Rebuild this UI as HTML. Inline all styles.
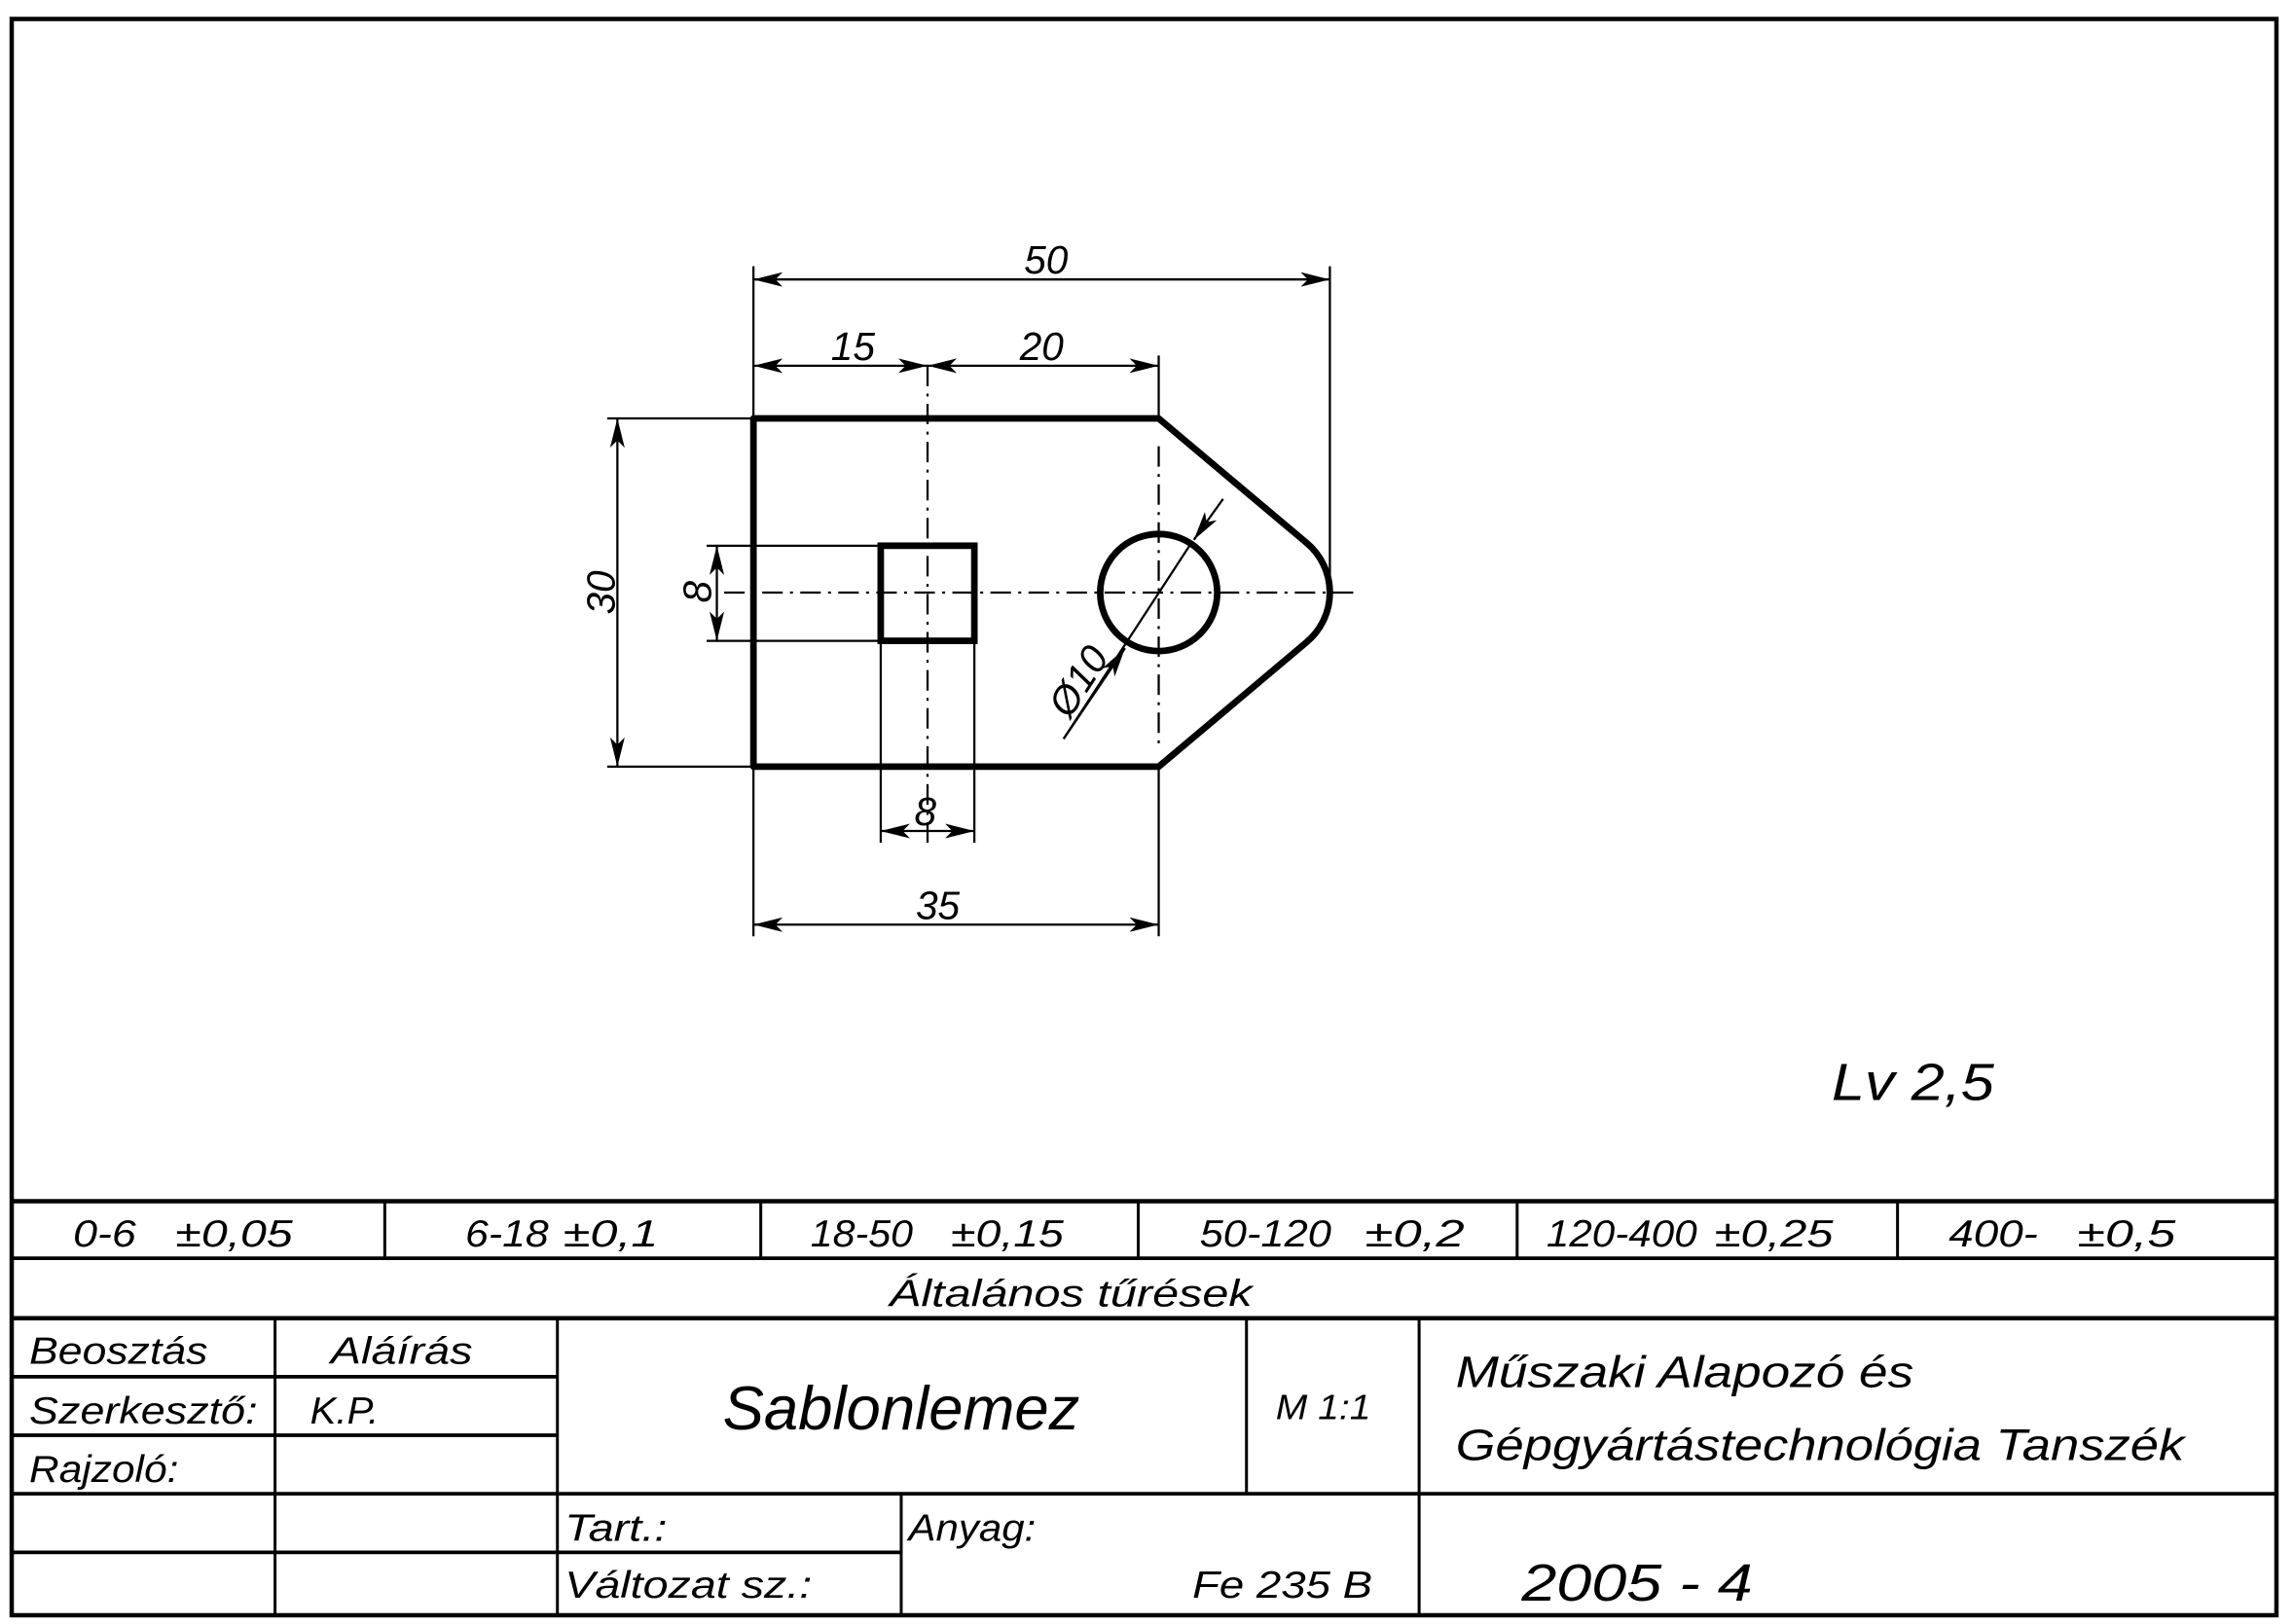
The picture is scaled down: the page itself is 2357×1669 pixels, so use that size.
<!DOCTYPE html>
<html><head><meta charset="utf-8"><style>
html,body{margin:0;padding:0;background:#fff;}
svg{display:block;}
text{font-family:"Liberation Sans",sans-serif;font-style:italic;fill:#000;}
</style></head><body>
<svg width="2357" height="1669" viewBox="0 0 1568 1110" preserveAspectRatio="none" xmlns="http://www.w3.org/2000/svg">
<defs>
<marker id="a" viewBox="0 0 20 10" refX="20" refY="5" markerWidth="20" markerHeight="10" markerUnits="userSpaceOnUse" orient="auto-start-reverse"><path d="M0,0 L20,5 L0,10 L5,5 Z" fill="#000"/></marker>
</defs>
<rect x="0" y="0" width="1568" height="1110" fill="#fff"/>
<g stroke="#000" fill="none">
<path d="M8,13 H1556 V1104 H8 Z" stroke-width="3"/>
<line x1="8" y1="821" x2="1556" y2="821" stroke-width="3"/>
<line x1="8" y1="860" x2="1556" y2="860" stroke-width="2.5"/>
<line x1="8" y1="901" x2="1556" y2="901" stroke-width="3"/>
<g stroke-width="2">
<line x1="263" y1="821" x2="263" y2="860"/><line x1="520" y1="821" x2="520" y2="860"/>
<line x1="778" y1="821" x2="778" y2="860"/><line x1="1037" y1="821" x2="1037" y2="860"/>
<line x1="1297" y1="821" x2="1297" y2="860"/>
<line x1="188" y1="901" x2="188" y2="1104"/><line x1="381" y1="901" x2="381" y2="1104"/>
<line x1="852" y1="901" x2="852" y2="1021"/><line x1="970" y1="901" x2="970" y2="1104"/>
<line x1="616" y1="1021" x2="616" y2="1104"/>
</g>
<g stroke-width="2.5">
<line x1="8" y1="941" x2="381" y2="941"/><line x1="8" y1="981" x2="381" y2="981"/>
<line x1="8" y1="1021" x2="1556" y2="1021"/><line x1="8" y1="1061" x2="381" y2="1061"/>
<line x1="381" y1="1061" x2="616" y2="1061"/>
</g>
</g>
<g font-size="26">
<text x="50" y="852" textLength="43" lengthAdjust="spacingAndGlyphs">0-6</text>
<text x="120" y="852" textLength="80" lengthAdjust="spacingAndGlyphs">±0,05</text>
<text x="318" y="852" textLength="57" lengthAdjust="spacingAndGlyphs">6-18</text>
<text x="385" y="852" textLength="65" lengthAdjust="spacingAndGlyphs">±0,1</text>
<text x="554" y="852" textLength="70" lengthAdjust="spacingAndGlyphs">18-50</text>
<text x="650" y="852" textLength="77" lengthAdjust="spacingAndGlyphs">±0,15</text>
<text x="820" y="852" textLength="90" lengthAdjust="spacingAndGlyphs">50-120</text>
<text x="933" y="852" textLength="68" lengthAdjust="spacingAndGlyphs">±0,2</text>
<text x="1057" y="852" textLength="103" lengthAdjust="spacingAndGlyphs">120-400</text>
<text x="1172" y="852" textLength="81" lengthAdjust="spacingAndGlyphs">±0,25</text>
<text x="1332" y="852" textLength="61" lengthAdjust="spacingAndGlyphs">400-</text>
<text x="1420" y="852" textLength="67" lengthAdjust="spacingAndGlyphs">±0,5</text>
<text x="608" y="893" textLength="248" lengthAdjust="spacingAndGlyphs">Általános tűrések</text>
<text x="20" y="932" textLength="122" lengthAdjust="spacingAndGlyphs">Beosztás</text>
<text x="226" y="932" textLength="97" lengthAdjust="spacingAndGlyphs">Aláírás</text>
<text x="20" y="973" textLength="156" lengthAdjust="spacingAndGlyphs">Szerkesztő:</text>
<text x="212" y="973" textLength="47" lengthAdjust="spacingAndGlyphs">K.P.</text>
<text x="20" y="1013" textLength="102" lengthAdjust="spacingAndGlyphs">Rajzoló:</text>
<text x="872" y="970" font-size="24" textLength="65" lengthAdjust="spacingAndGlyphs">M 1:1</text>
<text x="386" y="1053" textLength="70" lengthAdjust="spacingAndGlyphs">Tart.:</text>
<text x="621" y="1053" textLength="87" lengthAdjust="spacingAndGlyphs">Anyag:</text>
<text x="386" y="1092" textLength="169" lengthAdjust="spacingAndGlyphs">Változat sz.:</text>
<text x="815" y="1092" textLength="123" lengthAdjust="spacingAndGlyphs">Fe 235 B</text>
<text x="995" y="948" font-size="30" textLength="313" lengthAdjust="spacingAndGlyphs">Műszaki Alapozó és</text>
<text x="995" y="998" font-size="30" textLength="498" lengthAdjust="spacingAndGlyphs">Gépgyártástechnológia Tanszék</text>
<text x="1040" y="1094" font-size="36" textLength="158" lengthAdjust="spacingAndGlyphs">2005 - 4</text>
</g>
<text x="494" y="977" font-size="42" textLength="244" lengthAdjust="spacingAndGlyphs">Sablonlemez</text>
<text x="1252" y="752" font-size="36" textLength="111" lengthAdjust="spacingAndGlyphs">Lv 2,5</text>
<g stroke="#000" fill="none">
<path d="M515,286 H792 L893,371 A44.2,44.2 0 0 1 893,439 L792,524 H515 Z" stroke-width="4.5" stroke-linejoin="round"/>
<rect x="602" y="373" width="64" height="65" stroke-width="4.5"/>
<circle cx="792" cy="405" r="40" stroke-width="4.5"/>
<g stroke-width="1.5" stroke-dasharray="14,5,2,5">
<line x1="495" y1="405" x2="928" y2="405"/>
<line x1="634" y1="250" x2="634" y2="578"/>
<line x1="792" y1="305" x2="792" y2="510"/>
</g>
<g stroke-width="1.5">
<line x1="515" y1="182" x2="515" y2="286"/><line x1="909" y1="182" x2="909" y2="398"/>
<line x1="792" y1="243" x2="792" y2="286"/>
<line x1="415" y1="286" x2="515" y2="286"/><line x1="415" y1="524" x2="515" y2="524"/>
<line x1="483" y1="373" x2="602" y2="373"/><line x1="483" y1="438" x2="602" y2="438"/>
<line x1="602" y1="438" x2="602" y2="576"/><line x1="666" y1="438" x2="666" y2="576"/>
<line x1="515" y1="524" x2="515" y2="640"/><line x1="792" y1="524" x2="792" y2="640"/>
<line x1="515" y1="191" x2="909" y2="191" marker-start="url(#a)" marker-end="url(#a)"/>
<line x1="515" y1="250" x2="634" y2="250" marker-start="url(#a)" marker-end="url(#a)"/>
<line x1="634" y1="250" x2="792" y2="250" marker-start="url(#a)" marker-end="url(#a)"/>
<line x1="422" y1="286" x2="422" y2="524" marker-start="url(#a)" marker-end="url(#a)"/>
<line x1="490" y1="373" x2="490" y2="438" marker-start="url(#a)" marker-end="url(#a)"/>
<line x1="602" y1="568" x2="666" y2="568" marker-start="url(#a)" marker-end="url(#a)"/>
<line x1="515" y1="632" x2="792" y2="632" marker-start="url(#a)" marker-end="url(#a)"/>
<line x1="727" y1="505" x2="815" y2="370"/>
<line x1="727" y1="505" x2="769" y2="443" marker-end="url(#a)"/>
<line x1="836" y1="341" x2="816" y2="369" marker-end="url(#a)"/>
</g>
</g>
<g font-size="27">
<text x="700" y="187">50</text>
<text x="568" y="246">15</text>
<text x="697" y="246">20</text>
<text x="625" y="564">8</text>
<text x="626" y="628">35</text>
<text transform="translate(420,420) rotate(-90)">30</text>
<text transform="translate(486,412) rotate(-90)">8</text>
<text transform="translate(731,492) rotate(-57)">Ø10</text>
</g>
</svg>
</body></html>
